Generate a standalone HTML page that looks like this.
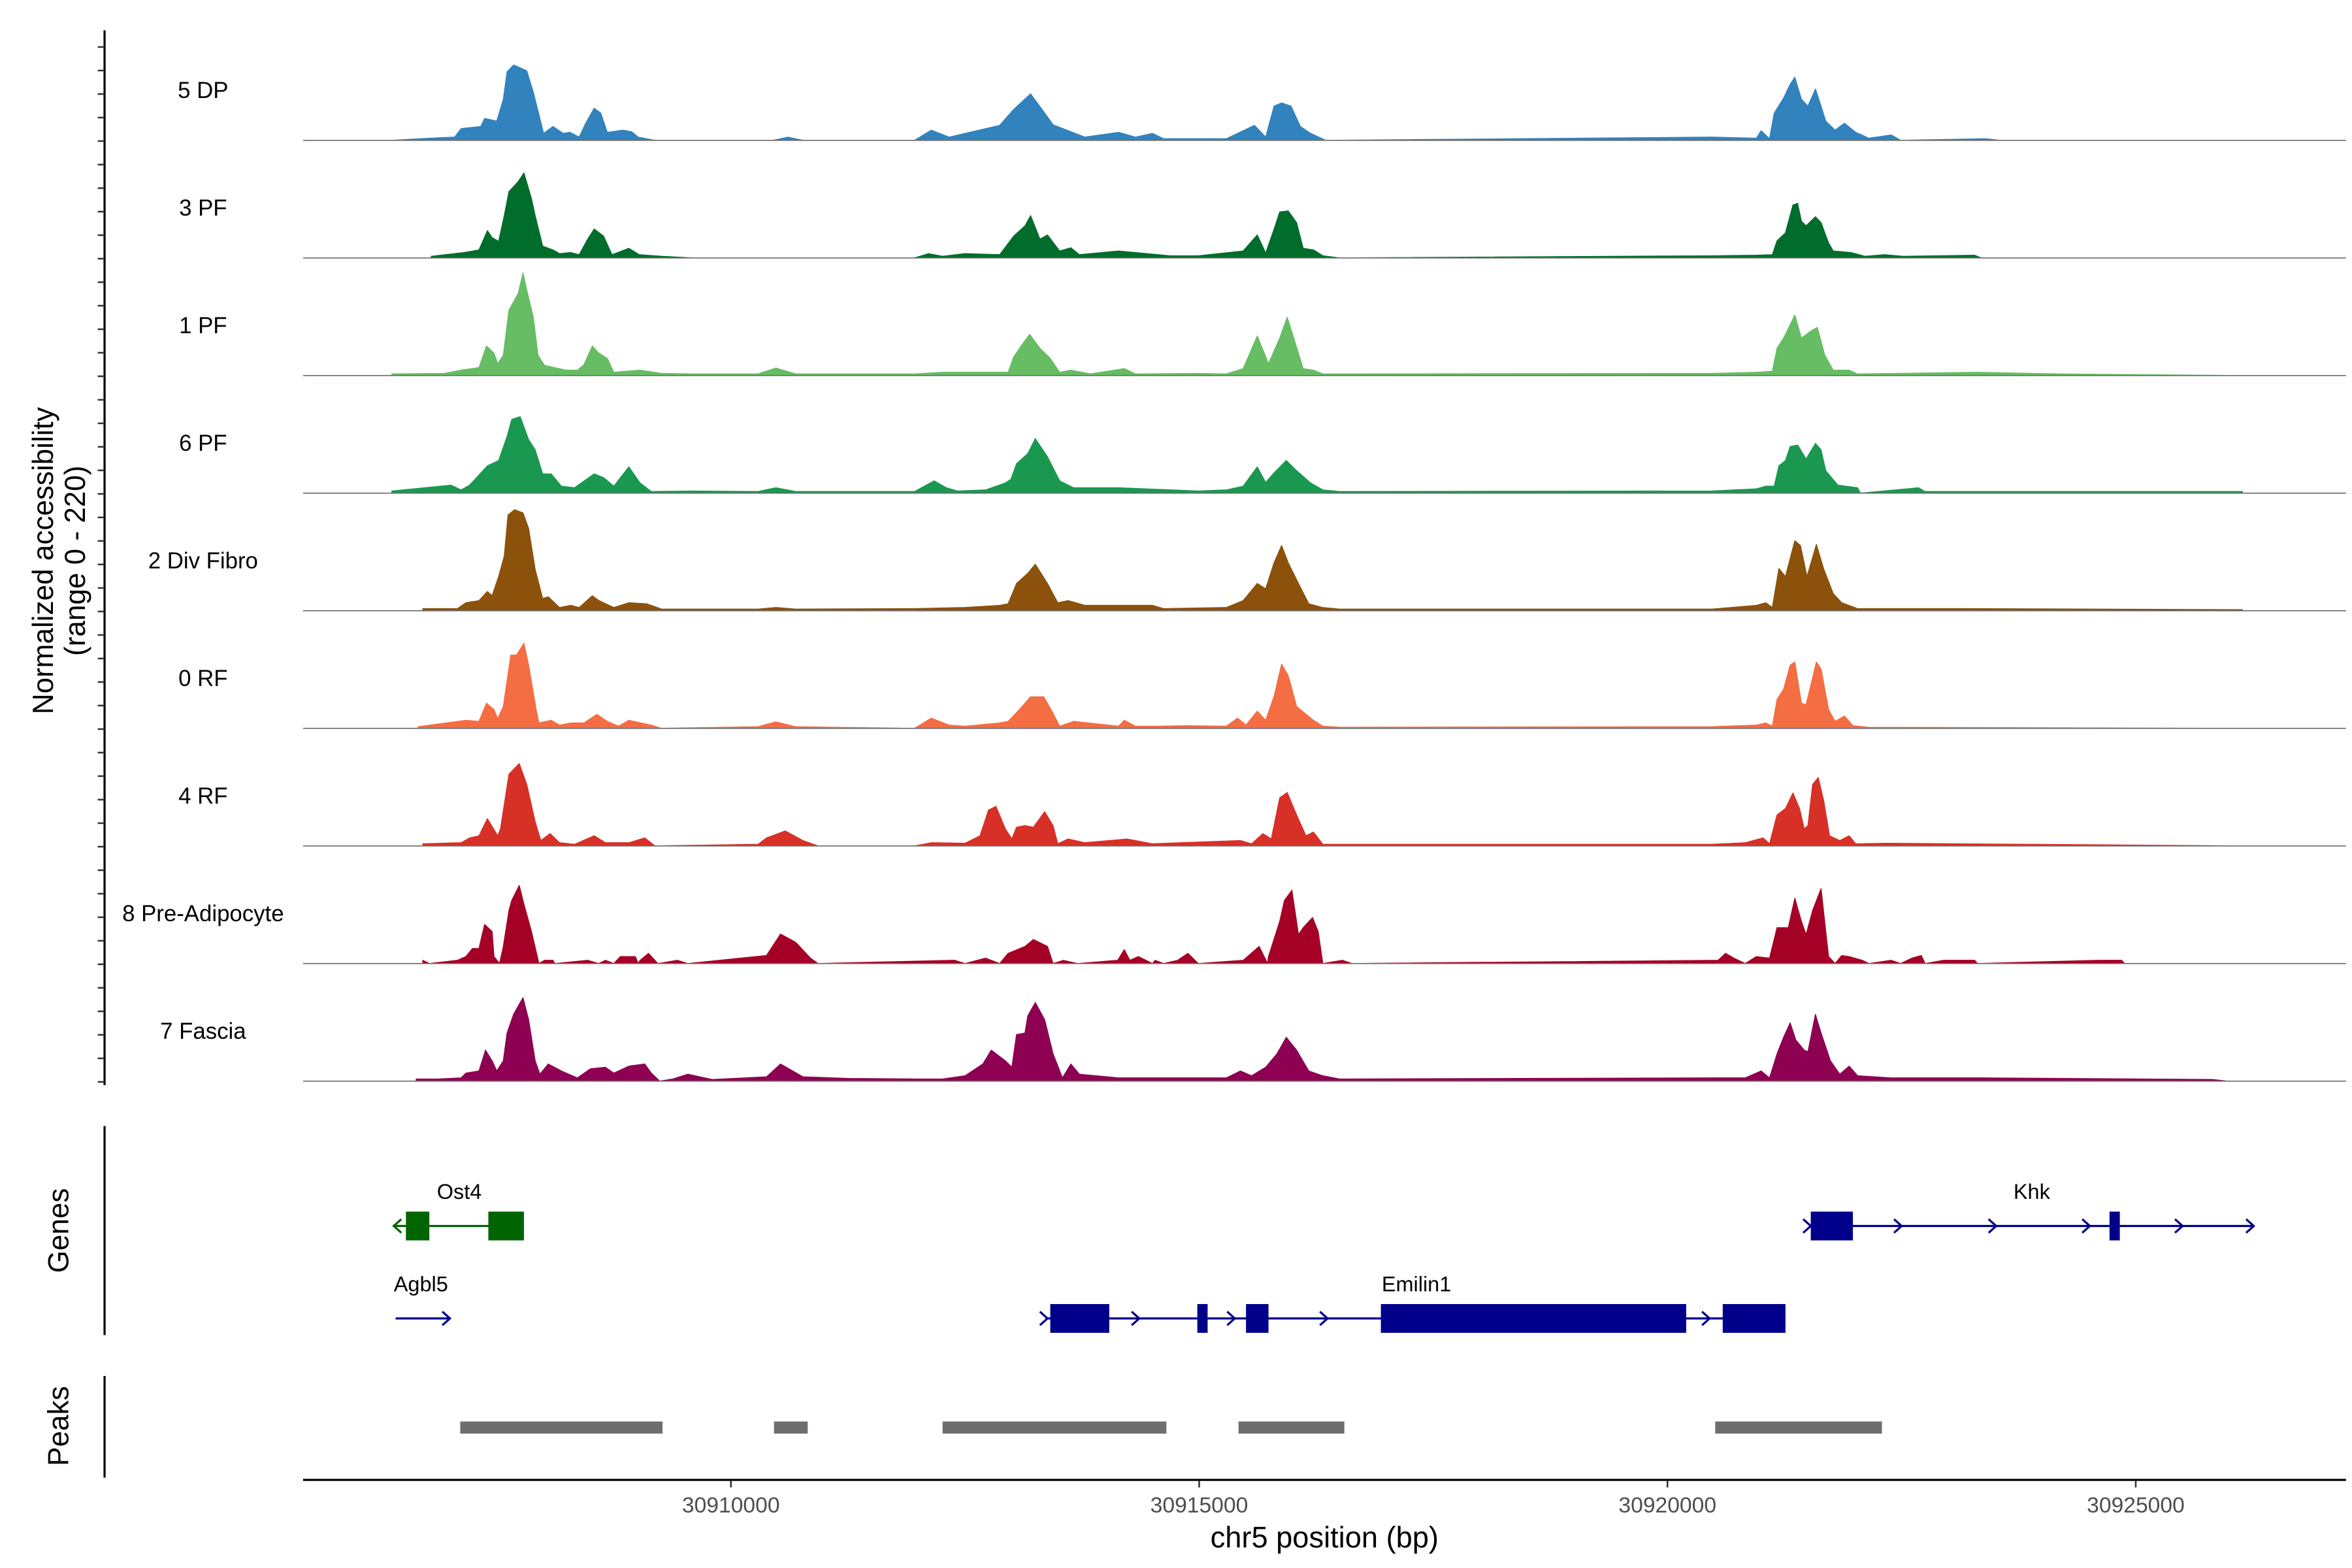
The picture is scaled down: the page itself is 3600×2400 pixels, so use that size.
<!DOCTYPE html>
<html>
<head>
<meta charset="utf-8">
<style>
html,body{margin:0;padding:0;background:#fff;}
svg{display:block;}
text{font-family:"Liberation Sans",Arial,sans-serif;}
</style>
</head>
<body>
<svg id="chart" width="3600" height="2400" viewBox="0 0 1552 1034.67" xmlns="http://www.w3.org/2000/svg">
  <rect x="0" y="0" width="1552" height="1034.67" fill="#fff"/>
  <g id="tracks"></g>
  <g id="yaxis">
    <line x1="69" y1="20" x2="69" y2="716" stroke="#000" stroke-width="1.4"/>
  </g>
  <text transform="translate(35,370) rotate(-90)" text-anchor="middle" font-size="19" fill="#000">Normalized accessibility</text>
  <text transform="translate(56,370) rotate(-90)" text-anchor="middle" font-size="19" fill="#000">(range 0 - 220)</text>
  <g id="genes">
    <line x1="69" y1="743" x2="69" y2="881" stroke="#000" stroke-width="1.4"/>
    <text transform="translate(45,812) rotate(-90)" text-anchor="middle" font-size="19">Genes</text>
  </g>
  <g id="peaks">
    <line x1="69" y1="908" x2="69" y2="975" stroke="#000" stroke-width="1.4"/>
    <text transform="translate(45,941) rotate(-90)" text-anchor="middle" font-size="19">Peaks</text>
  </g>
  <g id="xaxis">
    <line x1="200" y1="976.5" x2="1548" y2="976.5" stroke="#000" stroke-width="1.4"/>
  </g>
  <text x="874" y="1021" text-anchor="middle" font-size="19.5">chr5 position (bp)</text>
</svg>
<script>
// ---- data ----
const trackNames = ["5 DP","3 PF","1 PF","6 PF","2 Div Fibro","0 RF","4 RF","8 Pre-Adipocyte","7 Fascia"];
const trackColors = ["#3182BD","#006D2C","#66BD63","#1A9850","#8C510A","#F46D43","#D73027","#A50026","#8E0152"];
const yMax = 220;
const xTicks = [30910000,30915000,30920000,30925000];

const dpPos = [30906380,30906780,30907050,30907120,30907330,30907370,30907500,30907570,30907610,30907680,30907820,30907890,30908000,30908100,30908210,30908280,30908380,30908450,30908540,30908610,30908680,30908850,30908940,30909010,30909190,30910450,30910610,30910770,30911960,30912140,30912330,30912870,30913020,30913200,30913350,30913440,30913780,30914140,30914320,30914500,30914620,30915290,30915590,30915710,30915800,30915880,30915980,30916080,30916190,30916350,30920470,30920950,30921000,30921090,30921140,30921240,30921310,30921360,30921430,30921500,30921580,30921640,30921690,30921790,30921890,30922010,30922150,30922390,30922490,30923390,30923550,30926140];
const dpVal = [0,4,6,22,26,41,36,77,128,141,130,90,13,26,13,15,6,32,60,51,15,19,16,6,0,0,6,0,0,19,6,28,58,87,51,29,6,15,6,13,3,3,28,6,64,70,64,26,13,0,6,4,18,3,51,79,105,118,77,64,96,64,36,19,32,15,4,10,0,3,0,0];

const pf3Pos = [30906800,30907150,30907310,30907400,30907450,30907520,30907580,30907630,30907730,30907790,30907870,30907910,30907990,30908100,30908170,30908290,30908380,30908470,30908540,30908640,30908730,30908910,30909020,30909260,30909590,30911960,30912110,30912260,30912500,30912870,30913020,30913140,30913200,30913300,30913380,30913510,30913630,30913720,30914140,30914690,30914990,30915470,30915620,30915710,30915800,30915860,30915950,30916040,30916110,30916220,30916320,30916500,30920470,30920950,30921120,30921170,30921260,30921340,30921390,30921430,30921480,30921580,30921640,30921720,30921770,30921960,30922110,30922320,30922510,30923280,30923350];
const pf3Val = [3,10,15,51,38,31,79,124,143,159,111,79,22,15,8,10,6,35,54,41,6,18,6,3,0,0,8,3,8,6,41,60,79,35,43,13,19,6,13,4,4,13,43,9,54,86,88,66,18,15,4,0,4,5,6,32,47,99,102,69,60,77,66,28,13,10,3,6,3,5,0];

const pf1Pos = [30906380,30906940,30907120,30907310,30907390,30907470,30907510,30907570,30907630,30907730,30907780,30907820,30907890,30907940,30908010,30908240,30908360,30908430,30908520,30908590,30908680,30908750,30909030,30909260,30909590,30910290,30910480,30910690,30911960,30912260,30912960,30913020,30913110,30913190,30913300,30913410,30913510,30913630,30913840,30914200,30914320,30914990,30915290,30915470,30915620,30915740,30915860,30915940,30916010,30916110,30916220,30916320,30920470,30920950,30921120,30921170,30921240,30921360,30921430,30921530,30921600,30921680,30921770,30921940,30922030,30923310,30924190,30926140];
const pf1Val = [3,4,10,15,55,42,22,38,122,154,192,160,109,38,19,10,10,20,55,42,32,6,10,4,3,3,14,3,3,6,6,35,58,77,51,32,6,10,3,13,3,4,3,13,74,22,70,109,70,13,10,3,4,6,8,51,70,113,70,83,90,38,10,10,3,6,3,0];

const pf6Pos = [30906380,30907010,30907120,30907210,30907400,30907520,30907610,30907660,30907750,30907840,30907910,30907990,30908080,30908190,30908330,30908540,30908640,30908750,30908910,30909030,30909150,30909590,30910290,30910480,30910690,30911960,30912170,30912300,30912420,30912720,30912930,30912990,30913050,30913170,30913250,30913380,30913510,30913660,30914140,30914990,30915290,30915470,30915620,30915710,30915800,30915930,30916040,30916190,30916320,30916500,30920470,30920950,30921050,30921140,30921190,30921260,30921310,30921390,30921480,30921580,30921640,30921690,30921820,30922030,30922060,30922680,30922750,30926140];
const pf6Val = [4,15,6,15,51,61,106,138,143,100,81,36,36,13,10,36,29,13,49,19,3,4,3,10,3,3,23,10,4,6,19,26,55,74,102,68,23,10,10,4,6,13,49,20,38,61,42,19,6,3,4,8,13,13,51,61,87,90,64,93,81,42,15,10,0,10,3,3];

const divPos = [30906710,30907080,30907170,30907310,30907400,30907450,30907520,30907580,30907620,30907690,30907780,30907840,30907910,30907990,30908050,30908170,30908290,30908380,30908520,30908590,30908750,30908910,30909100,30909260,30910290,30910480,30910690,30911960,30912500,30912870,30912960,30913050,30913170,30913250,30913380,30913490,30913600,30913780,30914500,30914620,30915290,30915470,30915620,30915710,30915800,30915880,30915950,30916060,30916170,30916320,30916500,30920470,30920950,30921050,30921120,30921190,30921260,30921360,30921420,30921490,30921590,30921670,30921770,30921860,30922030,30923160,30926140];
const divVal = [4,4,15,19,36,28,64,102,179,189,183,154,77,23,26,6,10,6,28,19,6,15,13,3,3,6,3,4,6,10,13,51,70,87,51,15,19,10,10,4,6,19,51,41,90,122,90,51,13,6,3,3,10,15,6,79,64,131,122,64,124,77,32,15,4,4,2];

const rf0Pos = [30906660,30907170,30907310,30907390,30907470,30907510,30907570,30907650,30907710,30907790,30907840,30907920,30907950,30908080,30908170,30908290,30908430,30908570,30908680,30908800,30908910,30909150,30909260,30910290,30910480,30910690,30911960,30912140,30912330,30912500,30912870,30912960,30913080,30913200,30913340,30913440,30913510,30913660,30914140,30914200,30914320,30914560,30914870,30915290,30915410,30915500,30915620,30915710,30915800,30915880,30915950,30916040,30916220,30916320,30916500,30920470,30920950,30921050,30921120,30921170,30921240,30921310,30921360,30921430,30921480,30921590,30921640,30921720,30921790,30921890,30921980,30922150,30926140];
const rf0Val = [3,15,13,47,35,18,41,137,137,159,118,35,10,15,6,10,10,26,13,4,15,6,0,3,12,3,0,19,6,4,10,13,35,59,59,28,4,13,4,15,4,4,5,4,19,6,32,15,60,120,99,41,15,4,2,3,6,10,4,54,73,118,124,47,44,124,111,35,13,23,5,2,0];

const rf4Pos = [30906710,30907120,30907210,30907310,30907400,30907510,30907540,30907630,30907740,30907820,30907910,30907970,30908070,30908170,30908330,30908540,30908660,30908910,30909080,30909190,30910290,30910380,30910580,30910770,30910930,30911960,30912140,30912500,30912660,30912750,30912830,30912930,30913000,30913050,30913140,30913230,30913350,30913440,30913490,30913600,30913780,30914230,30914500,30915440,30915560,30915680,30915770,30915860,30915940,30916040,30916140,30916220,30916320,30920470,30920830,30921020,30921090,30921170,30921260,30921340,30921410,30921460,30921500,30921550,30921610,30921670,30921730,30921840,30921940,30922010,30922340,30926140];
const rf4Val = [4,6,15,19,51,19,32,134,154,115,45,10,23,6,3,19,6,6,15,0,3,15,28,10,0,0,6,5,19,67,74,32,13,35,38,35,64,38,4,13,6,13,4,10,4,23,13,90,100,58,19,26,3,3,6,15,4,58,70,99,70,32,38,115,128,83,19,10,19,4,5,0];

const prePos = [30906710,30906780,30907080,30907170,30907240,30907310,30907370,30907450,30907470,30907530,30907570,30907630,30907660,30907740,30907790,30907870,30907950,30908010,30908100,30908120,30908470,30908590,30908660,30908750,30908820,30908980,30909010,30909030,30909120,30909220,30909430,30909540,30910380,30910530,30910690,30910850,30910930,30912390,30912500,30912720,30912870,30912960,30913140,30913230,30913380,30913440,30913550,30913700,30914130,30914200,30914260,30914350,30914500,30914530,30914620,30914770,30914880,30914990,30915470,30915640,30915730,30915740,30915860,30915910,30915990,30916060,30916110,30916210,30916270,30916320,30916530,30916630,30920540,30920620,30920710,30920830,30920950,30921090,30921170,30921290,30921360,30921430,30921480,30921550,30921640,30921690,30921720,30921790,30921860,30921940,30922080,30922150,30922390,30922490,30922610,30922710,30922750,30922950,30923280,30923310,30924610,30924850,30924880];
const preVal = [6,0,6,13,28,28,73,60,13,0,32,99,118,146,111,60,0,6,6,0,6,0,6,0,13,13,0,6,19,0,6,0,15,55,40,10,0,6,0,10,0,19,32,45,32,0,6,0,6,26,6,13,0,6,0,6,19,0,6,32,0,13,79,118,137,54,67,86,60,0,6,0,6,19,10,0,13,10,67,67,122,79,54,99,140,60,13,0,15,13,6,0,6,0,10,15,0,6,6,0,6,6,0];

const fasPos = [30906640,30906870,30907120,30907170,30907310,30907380,30907450,30907500,30907570,30907610,30907680,30907780,30907840,30907910,30907960,30908050,30908190,30908360,30908500,30908660,30908750,30908910,30909080,30909150,30909240,30909380,30909540,30909800,30910380,30910530,30910770,30911260,30911960,30912260,30912500,30912690,30912780,30912930,30913000,30913050,30913140,30913170,30913250,30913350,30913440,30913540,30913630,30913720,30914140,30914990,30915290,30915440,30915560,30915710,30915830,30915930,30916040,30916170,30916320,30916500,30920470,30920830,30921000,30921090,30921170,30921240,30921310,30921370,30921460,30921500,30921580,30921640,30921740,30921840,30921940,30922030,30922390,30922870,30923350,30925820,30925980];
const fasVal = [4,4,6,15,19,58,38,19,38,90,125,156,115,38,13,32,19,6,23,26,15,28,32,15,0,4,13,3,8,32,8,5,4,4,10,32,58,38,26,87,90,122,147,115,51,6,32,13,6,6,6,19,10,26,51,82,58,19,10,4,6,6,19,6,51,82,109,77,58,55,125,90,38,13,28,10,6,6,6,3,0];

const trackPositions = [dpPos,pf3Pos,pf1Pos,pf6Pos,divPos,rf0Pos,rf4Pos,prePos,fasPos];
const trackValues = [dpVal,pf3Val,pf1Val,pf6Val,divVal,rf0Val,rf4Val,preVal,fasVal];

// genes
const geneNames = ["Ost4","Agbl5","Emilin1","Khk"];
const geneStart = [30906400,30906420,30913360,30921530];
const geneEnd = [30907790,30907000,30921260,30926260];
const geneStrand = [-1,1,1,1];
const geneRow = [0,1,1,0];
const geneColors = ["#006400","#00008B","#00008B","#00008B"];
const geneLabelPos = [30907100,30906690,30917320,30923890];
const exonGene = [0,0,2,2,2,2,2,3,3];
const exonStart = [30906530,30907410,30913410,30914980,30915500,30916940,30920590,30921530,30924720];
const exonEnd = [30906780,30907790,30914040,30915090,30915740,30920200,30921260,30921980,30924830];
const chevronGene = [0,1,2,2,2,2,2,3,3,3,3,3,3];
const chevronPos = [30906400,30907000,30913380,30914360,30915380,30916370,30920450,30921530,30922500,30923510,30924510,30925500,30926260];

// peaks
const peakStart = [30907110,30910460,30912260,30915420,30920510];
const peakEnd = [30909270,30910820,30914650,30916550,30922290];

// ---- scales ----
const NS = "http://www.w3.org/2000/svg";
function xScale(bp){ return 482.3 + (bp - 30910000) * 0.0618; }
const firstBase = 92.6, trackStep = 77.6, trackH = 77.6;
function yScale(v, i){ return firstBase + i*trackStep - v / yMax * trackH; }
function mk(tag, attrs, parent){
  const e = document.createElementNS(NS, tag);
  for (const k in attrs) e.setAttribute(k, attrs[k]);
  parent.appendChild(e);
  return e;
}

const tracksG = document.getElementById('tracks');
const yAxisG = document.getElementById('yaxis');
for (let i = 0; i < trackNames.length; i++){
  const base = firstBase + i*trackStep;
  const pos = trackPositions[i], val = trackValues[i];
  const n = Math.min(pos.length, val.length);
  let d = "M" + xScale(pos[0]).toFixed(2) + "," + base.toFixed(2);
  for (let k = 0; k < n; k++){
    d += " L" + xScale(pos[k]).toFixed(2) + "," + yScale(val[k], i).toFixed(2);
  }
  d += " L" + xScale(pos[n-1]).toFixed(2) + "," + base.toFixed(2) + " Z";
  const area = mk('path', {d: d, fill: trackColors[i], stroke: trackColors[i], 'stroke-width': 0.6, 'stroke-linejoin': 'round'}, tracksG);
  
  
  const bl = mk('line', {x1: 200, x2: 1548, y1: base, y2: base, stroke: '#6b6b6b', 'stroke-width': 0.7}, tracksG);
  
  
  const lab = mk('text', {x: 134, y: base - 28, 'text-anchor': 'middle', 'font-size': 15, fill: '#000'}, tracksG);
  lab.textContent = trackNames[i];
  
  
  for (let k = 0; k < 5; k++){
    const ty = base - k * trackStep / 5 + 0.5;
    const t = mk('line', {x1: 64.5, x2: 69, y1: ty, y2: ty, stroke: '#333', 'stroke-width': 1.1}, yAxisG);
    
    
  }
}

// genes
const genesG = document.getElementById('genes');
const rowY = [809, 870];
for (let g = 0; g < geneNames.length; g++){
  const y = rowY[geneRow[g]];
  const ln = mk('line', {x1: xScale(geneStart[g]), x2: xScale(geneEnd[g]), y1: y, y2: y, stroke: geneColors[g], 'stroke-width': 1.4}, genesG);
  
  
  const lb = mk('text', {x: xScale(geneLabelPos[g]), y: y - 18, 'text-anchor': 'middle', 'font-size': 14, fill: '#000'}, genesG);
  lb.textContent = geneNames[g];
  
  
}
for (let e = 0; e < exonStart.length; e++){
  const g = exonGene[e];
  const y = rowY[geneRow[g]];
  const r = mk('rect', {x: xScale(exonStart[e]), y: y - 9.5, width: xScale(exonEnd[e]) - xScale(exonStart[e]), height: 19, fill: geneColors[g]}, genesG);
  
  
}
for (let c = 0; c < chevronPos.length; c++){
  const g = chevronGene[c];
  const y = rowY[geneRow[g]];
  const x = xScale(chevronPos[c]);
  const s = geneStrand[g];
  const d = "M" + (x - 5*s) + "," + (y - 4.5) + " L" + x + "," + y + " L" + (x - 5*s) + "," + (y + 4.5);
  const p = mk('path', {d: d, fill: 'none', stroke: geneColors[g], 'stroke-width': 1.4}, genesG);
  
  
}

// peaks
const peaksG = document.getElementById('peaks');
for (let p = 0; p < peakStart.length; p++){
  const r = mk('rect', {x: xScale(peakStart[p]), y: 938, width: xScale(peakEnd[p]) - xScale(peakStart[p]), height: 8, fill: '#6e6e6e'}, peaksG);
  
  
}

// x axis
const xAxisG = document.getElementById('xaxis');
for (let t = 0; t < xTicks.length; t++){
  const x = xScale(xTicks[t]);
  const tk = mk('line', {x1: x, x2: x, y1: 977, y2: 981.5, stroke: '#333', 'stroke-width': 1.1}, xAxisG);
  
  
  const tl = mk('text', {x: x, y: 998, 'text-anchor': 'middle', 'font-size': 14.5, fill: '#4d4d4d'}, xAxisG);
  tl.textContent = String(xTicks[t]);
  
  
}
</script>
</body>
</html>
